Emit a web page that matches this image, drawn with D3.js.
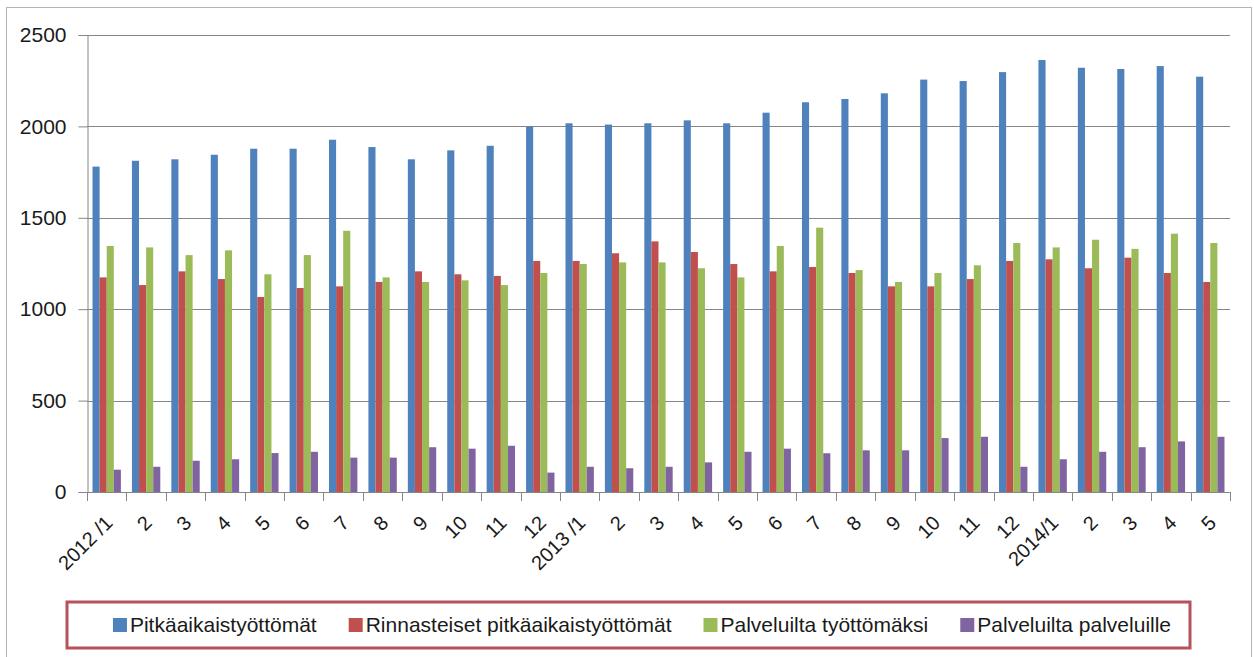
<!DOCTYPE html>
<html>
<head>
<meta charset="utf-8">
<script src="https://cdnjs.cloudflare.com/ajax/libs/d3/7.8.5/d3.min.js"></script>
<style>
    body { margin: 0; background: #fff; }
    .axis-label { font-family: "Liberation Sans", Arial, sans-serif; fill: #1a1a1a; }
    .legend-label { font-family: "Liberation Sans", Arial, sans-serif; fill: #1a1a1a; }
</style>
</head>
<body>
<div id="chart"></div>
<script>

// Month labels (x axis)
var months = ["2012 /1", "2", "3", "4", "5", "6", "7", "8", "9", "10", "11", "12",
    "2013 /1", "2", "3", "4", "5", "6", "7", "8", "9", "10", "11", "12",
    "2014/1", "2", "3", "4", "5"];

var seriesNames = ["Pitkäaikaistyöttömät", "Rinnasteiset pitkäaikaistyöttömät",
    "Palveluilta työttömäksi", "Palveluilta palveluille"];

// Values
var pitkaaikaiset = [1780, 1812, 1820, 1845, 1878, 1878, 1927, 1887, 1820, 1869, 1894, 2000,
    2017, 2010, 2017, 2033, 2017, 2075, 2132, 2150, 2181, 2256, 2248, 2297,
    2363, 2321, 2314, 2330, 2272];
var rinnasteiset = [1174, 1132, 1207, 1165, 1067, 1116, 1125, 1149, 1207, 1191, 1182, 1264,
    1264, 1306, 1371, 1313, 1247, 1207, 1231, 1198, 1125, 1125, 1165, 1264,
    1273, 1224, 1282, 1198, 1149];
var palvTyottomaksi = [1346, 1338, 1296, 1322, 1191, 1296, 1429, 1174, 1149, 1158, 1132, 1198,
    1247, 1256, 1256, 1224, 1174, 1346, 1446, 1214, 1149, 1198, 1240, 1362,
    1338, 1380, 1330, 1413, 1362];
var palvPalveluille = [122, 138, 171, 179, 213, 220, 188, 188, 245, 237, 253, 106,
    138, 130, 138, 162, 220, 237, 212, 228, 228, 295, 302, 138,
    179, 220, 245, 277, 302];

var yTicks = [0, 500, 1000, 1500, 2000, 2500];

var colors = ["#4f81bd", "#c0504d", "#9bbb59", "#8064a2"];

var values = [pitkaaikaiset, rinnasteiset, palvTyottomaksi, palvPalveluille];

var width = 1254, height = 657;
var plot = {left: 87, right: 1230, top: 35, bottom: 492};
var gridColor = "#868686";

var svg = d3.select("#chart").append("svg")
    .attr("width", width)
    .attr("height", height);

// Outer chart border
svg.append("rect")
    .attr("x", 6.5).attr("y", 7.5)
    .attr("width", 1245).attr("height", 680)
    .attr("fill", "none")
    .attr("stroke", "#b4b4b4");

// Scales
var x0 = d3.scaleBand()
    .domain(d3.range(months.length))
    .range([plot.left, plot.right])
    .paddingInner(0.28)
    .paddingOuter(0.14);

var x1 = d3.scaleBand()
    .domain(d3.range(seriesNames.length))
    .range([0, x0.bandwidth()]);

var y = d3.scaleLinear()
    .domain([0, 2500])
    .range([plot.bottom, plot.top]);

// Gridlines
svg.selectAll(".grid")
    .data(yTicks.filter(function (d) { return d > 0; }))
    .enter().append("line")
    .attr("class", "grid")
    .attr("x1", plot.left).attr("x2", plot.right)
    .attr("y1", function (d) { return Math.round(y(d)) + 0.5; })
    .attr("y2", function (d) { return Math.round(y(d)) + 0.5; })
    .attr("stroke", gridColor);

// Y axis
var yAxis = svg.append("g")
    .attr("transform", "translate(" + (plot.left + 0.5) + ",0)")
    .call(d3.axisLeft(y).tickValues(yTicks).tickFormat(d3.format("d")).tickSize(9).tickPadding(12));

yAxis.select(".domain").attr("stroke", gridColor);
yAxis.selectAll(".tick line").attr("stroke", gridColor);
yAxis.selectAll(".tick text")
    .attr("class", "axis-label")
    .style("font-size", "21px")
    .attr("font-family", null);

// Bars
var groups = svg.selectAll(".month")
    .data(months)
    .enter().append("g")
    .attr("class", "month")
    .attr("transform", function (d, i) {
        return "translate(" + x0(i) + ",0)";
    });

groups.selectAll("rect")
    .data(function (d, i) {
        return values.map(function (s, k) { return {series: k, value: s[i]}; });
    })
    .enter().append("rect")
    .attr("x", function (d) { return x1(d.series); })
    .attr("width", x1.bandwidth())
    .attr("y", function (d) { return y(d.value); })
    .attr("height", function (d) { return y(0) - y(d.value); })
    .attr("fill", function (d) { return colors[d.series]; });

// X axis line and tick marks between the months
var step = x0.step();
svg.append("line")
    .attr("x1", plot.left).attr("x2", plot.right)
    .attr("y1", plot.bottom + 0.5).attr("y2", plot.bottom + 0.5)
    .attr("stroke", gridColor);

svg.selectAll(".xtick")
    .data(d3.range(months.length + 1))
    .enter().append("line")
    .attr("class", "xtick")
    .attr("x1", function (d) { return Math.round(plot.left + d * step) + 0.5; })
    .attr("x2", function (d) { return Math.round(plot.left + d * step) + 0.5; })
    .attr("y1", plot.bottom)
    .attr("y2", plot.bottom + 9)
    .attr("stroke", gridColor);

svg.selectAll(".xlabel")
    .data(months)
    .enter().append("text")
    .attr("class", "axis-label xlabel")
    .attr("text-anchor", "end")
    .attr("dy", "0.5em")
    .style("font-size", "20px")
    .attr("transform", function (d, i) {
        var cx = x0(i) + x0.bandwidth() / 2;
        return "translate(" + cx + "," + 517 + ") rotate(-45)";
    })
    .text(function (d) { return d; });

// Legend
var legend = {x: 67, y: 602, w: 1123, h: 46};
svg.append("rect")
    .attr("x", legend.x).attr("y", legend.y)
    .attr("width", legend.w).attr("height", legend.h)
    .attr("fill", "#fff")
    .attr("stroke", "#b5525b")
    .attr("stroke-width", 3);

var legendItems = svg.selectAll(".legend-item")
    .data(seriesNames)
    .enter().append("g")
    .attr("class", "legend-item");

legendItems.append("rect")
    .attr("width", 14).attr("height", 14)
    .attr("y", 618)
    .attr("fill", function (d, i) { return colors[i]; });

legendItems.append("text")
    .attr("class", "legend-label")
    .attr("x", 17)
    .attr("y", 632)
    .style("font-size", "21px")
    .text(function (d) { return d; });

// place items one after the other, centred like the original
var itemGap = 32;
var widths = [];
legendItems.each(function () {
    widths.push(17 + d3.select(this).select("text").node().getComputedTextLength());
});
var total = d3.sum(widths) + itemGap * (widths.length - 1);
var pos = 642 - total / 2;
legendItems.attr("transform", function (d, i) {
    var t = "translate(" + pos + ",0)";
    pos += widths[i] + itemGap;
    return t;
});

</script>
</body>
</html>
